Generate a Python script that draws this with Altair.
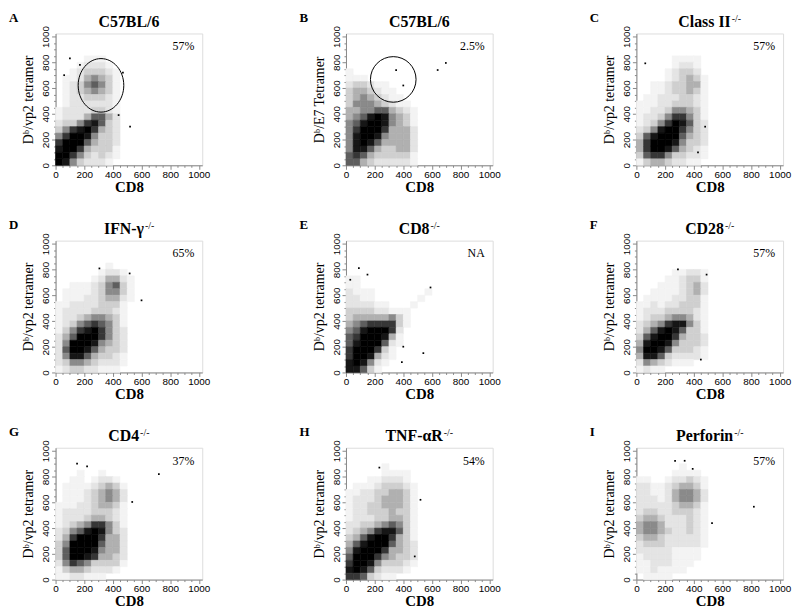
import altair as alt
import pandas as pd

W, H = 148, 133
BIN = 50
DOMAIN = [0, 1024]

keys = ["A", "B", "C", "D", "E", "F", "G", "H", "I"]
title_base = ["C57BL/6", "C57BL/6", "Class II", "IFN-γ", "CD8", "CD28", "CD4", "TNF-αR", "Perforin"]
title_sup = ["", "", "-/-", "-/-", "-/-", "-/-", "-/-", "-/-", "-/-"]
y_titles = ["Dᵇ/vp2 tetramer", "Dᵇ/E7 Tetramer", "Dᵇ/vp2 tetramer", "Dᵇ/vp2 tetramer",
            "Dᵇ/vp2 tetramer", "Dᵇ/vp2 tetramer", "Dᵇ/vp2 tetramer", "Dᵇ/vp2 tetramer",
            "Dᵇ/vp2 tetramer"]
x_title = "CD8"
pct_labels = ["57%", "2.5%", "57%", "65%", "NA", "57%", "37%", "54%", "57%"]
tick_values = list(range(0, 1001, 50))

# density: 50x50 bins, rows from y=850-900 (top) down to y=0-50,
# columns x=0-50 ... 550-600; digit = darkness level 0..9
grid_A = ["000000000000", "000011100000", "000122210000", "001233321000", "011245431000",
          "012356531000", "012345431000", "012233321000", "012222221000", "122223321000",
          "122246642000", "233578632000", "357897432000", "579985332000", "799964332000",
          "899743331000", "997532321000", "985322210000"]
grid_B = ["000000000000", "000000000000", "000000000000", "100000000000", "111000000000",
          "233211000000", "344321100000", "345432110000", "355543211000", "445566432100",
          "456898543100", "568998543100", "579997444200", "589985444200", "589864444200",
          "588643344200", "676433333100", "664322222100"]
grid_C = ["000000000000", "000001111000", "000001221000", "000012332000", "000012343100",
          "001123344100", "001123343100", "011222332100", "111223332100", "112235543100",
          "122357753100", "123579863200", "235899753200", "368999643200", "479998533200",
          "479986432100", "367753322100", "134432211000"]
grid_D = ["000000000000", "000000010000", "000000122100", "000001244210", "001112356310",
          "011112355310", "011122344210", "112222333100", "122223332100", "122345543100",
          "123567653100", "135789753200", "246999753200", "259998543200", "269986433200",
          "258864332100", "235543222100", "123322111000"]
grid_E = ["000000000000", "000000000000", "000000000000", "110000000000", "110000000000",
          "211100000001", "221100000010", "222211000100", "333322111000", "344444531000",
          "456777731000", "568999720000", "679998410000", "689996210000", "799973100000",
          "799842100000", "898521000000", "886310000000"]
grid_F = ["000000000000", "000000000000", "000001122100", "000011233100", "000111234200",
          "001111234200", "011112233100", "112122333100", "122233332100", "123345542100",
          "234578853100", "246898633100", "368997433200", "489985333200", "599863332100",
          "488632222100", "254321110000", "121100000000"]
grid_G = ["000000000000", "000100100000", "001101221000", "011112343100", "011123454200",
          "011123454200", "111223443100", "122223332100", "122234432100", "123457753100",
          "235689853200", "247999744200", "359999644200", "369998544200", "369987443200",
          "257653333100", "134432221000", "112211100000"]
grid_H = ["000001000000", "000001111000", "000112221000", "011123332100", "112233443100",
          "122234443100", "122334443100", "122333433100", "122233443100", "223345653100",
          "234578863100", "346899743100", "468999643200", "589997443200", "699975433200",
          "799853332100", "898632221000", "776321100000"]
grid_I = ["000000100000", "000001111000", "110012232100", "221123443100", "221124554200",
          "222124554200", "222223443100", "233223332100", "344322232100", "455422232100",
          "455432232100", "344322222100", "233322222100", "222221111000", "122221111000",
          "112221110000", "112111100000", "011110000000"]
grids = [grid_A, grid_B, grid_C, grid_D, grid_E, grid_F, grid_G, grid_H, grid_I]

# stray events
stray_x = [[100, 440, 470, 60, 170, 520],
           [697, 640, 350, 400],
           [62, 480, 430],
           [306, 517, 600],
           [90, 150, 30, 400, 540, 390, 590],
           [290, 490, 450],
           [150, 220, 721, 535],
           [233, 520, 480],
           [270, 337, 393, 820, 528]]
stray_y = [[830, 390, 720, 700, 780, 300],
           [795, 740, 740, 620],
           [792, 300, 100],
           [808, 769, 560],
           [810, 760, 720, 200, 150, 80, 660],
           [800, 760, 100],
           [900, 880, 820, 603],
           [870, 620, 180],
           [923, 923, 860, 566, 439]]

# gates (circles) in panels A and B
gate_x = {"A": 317, "B": 330}
gate_y = {"A": 621, "B": 667}

levels = [1, 2, 3, 4, 5, 6, 7, 8, 9]
grays = ["#f3f3f3", "#e4e4e4", "#cfcfcf", "#b0b0b0", "#8a8a8a",
         "#5e5e5e", "#363636", "#161616", "#000000"]

TB = {'C': .722, '5': .5, '7': .5, 'B': .667, 'L': .667, '/': .278, '6': .5, 'l': .278,
      'a': .5, 's': .389, ' ': .25, 'I': .389, 'F': .611, 'N': .722, '-': .333, 'γ': .5,
      'D': .722, '8': .5, '2': .5, '4': .5, 'T': .667, 'α': .55, 'R': .722, 'P': .611,
      'e': .444, 'r': .444, 'f': .333, 'o': .5, 'i': .278, 'n': .556}

SERIF = "Liberation Serif"
tick_size = {"condition": {"test": "datum.value % 200 === 0", "value": 4}, "value": 2}
label_expr = "datum.value % 200 === 0 ? '' + datum.value : ''"


def grid_frame(rows):
    recs = []
    n = len(rows)
    for r, row in enumerate(rows):
        y0 = (n - 1 - r) * BIN
        for c, ch in enumerate(row):
            lv = int(ch)
            if lv > 0:
                recs.append(dict(x=c * BIN, x2=(c + 1) * BIN, y=y0, y2=y0 + BIN, level=lv))
    return pd.DataFrame(recs)


def panel(i):
    k = keys[i]
    xenc = alt.X("x:Q", scale=alt.Scale(domain=DOMAIN, nice=False, zero=False),
                 axis=alt.Axis(values=tick_values, labelExpr=label_expr, title=x_title,
                               grid=False,
                               titleFont=SERIF, titleFontSize=15, titleFontWeight="bold",
                               titlePadding=0, labelPadding=0, tickSize=tick_size,
                               labelOverlap=False, labelFlush=False))
    yenc = alt.Y("y:Q", scale=alt.Scale(domain=DOMAIN, nice=False, zero=False),
                 axis=alt.Axis(values=tick_values, labelExpr=label_expr, title=y_titles[i],
                               grid=False,
                               titleFont=SERIF, titleFontSize=14, titleFontWeight="normal",
                               titlePadding=5, labelPadding=1, tickSize=tick_size,
                               labelAngle=270, labelAlign="center", labelBaseline="bottom",
                               labelOverlap=False, labelFlush=False))
    cscale = alt.Scale(domain=levels, range=grays)
    dens = alt.Chart(grid_frame(grids[i])).mark_rect(strokeWidth=0.6).encode(
        x=xenc, x2="x2:Q", y=yenc, y2="y2:Q",
        color=alt.Color("level:O", scale=cscale, legend=None),
        stroke=alt.Stroke("level:O", scale=cscale, legend=None))
    pts = alt.Chart(pd.DataFrame({"x": stray_x[i], "y": stray_y[i]})).mark_square(
        size=3, color="black", opacity=1).encode(x=xenc, y=yenc)
    layers = [dens, pts]
    if k in gate_x:
        if k == "A":
            shape = "M-0.852,0 A0.852,1 0 1,1 0.852,0 A0.852,1 0 1,1 -0.852,0 Z"
            size = 2916
        else:
            shape = "circle"
            size = 2116
        gate = alt.Chart(pd.DataFrame({"x": [gate_x[k]], "y": [gate_y[k]]})).mark_point(
            shape=shape, size=size, filled=False, stroke="black", strokeWidth=1,
            opacity=1).encode(x=xenc, y=yenc)
        layers.append(gate)
    # letter
    layers.append(alt.Chart(pd.DataFrame({"t": [k]})).mark_text(
        font=SERIF, fontSize=13, fontWeight="bold", align="left", baseline="alphabetic",
        color="black").encode(text="t:N", x=alt.value(-47), y=alt.value(-12)))
    # title with superscript
    wb = sum(TB.get(ch, .5) for ch in title_base[i]) * 16
    ws = 10.5 if title_sup[i] else 0
    xr = W / 2 - (wb + ws) / 2 + wb
    layers.append(alt.Chart(pd.DataFrame({"t": [title_base[i]]})).mark_text(
        font=SERIF, fontSize=16, fontWeight="bold", align="right", baseline="alphabetic",
        color="black").encode(text="t:N", x=alt.value(xr), y=alt.value(-7)))
    if title_sup[i]:
        layers.append(alt.Chart(pd.DataFrame({"t": [title_sup[i]]})).mark_text(
            font=SERIF, fontSize=10, align="left", baseline="alphabetic",
            color="black").encode(text="t:N", x=alt.value(xr + 1), y=alt.value(-12)))
    # percentage
    layers.append(alt.Chart(pd.DataFrame({"t": [pct_labels[i]]})).mark_text(
        font=SERIF, fontSize=12, align="right", baseline="alphabetic",
        color="black").encode(text="t:N", x=alt.value(W - 8), y=alt.value(17)))
    return alt.layer(*layers).properties(width=W, height=H)


rows = []
for r in range(3):
    rows.append(alt.hconcat(*[panel(3 * r + c) for c in range(3)], spacing=88))

chart = alt.vconcat(*rows, spacing=23).properties(
    padding={"left": 0, "top": 0, "right": 0, "bottom": 0}
).configure_view(stroke="black", strokeWidth=1).configure_axis(
    domainColor="black", tickColor="black", labelColor="black", titleColor="black",
    grid=False, labelFont="Liberation Sans", labelFontWeight="bold", labelFontSize=9,
    domainWidth=1, tickWidth=1
).configure(background="white")

chart.save("out.html", embed_options={"renderer": "svg", "actions": False})
